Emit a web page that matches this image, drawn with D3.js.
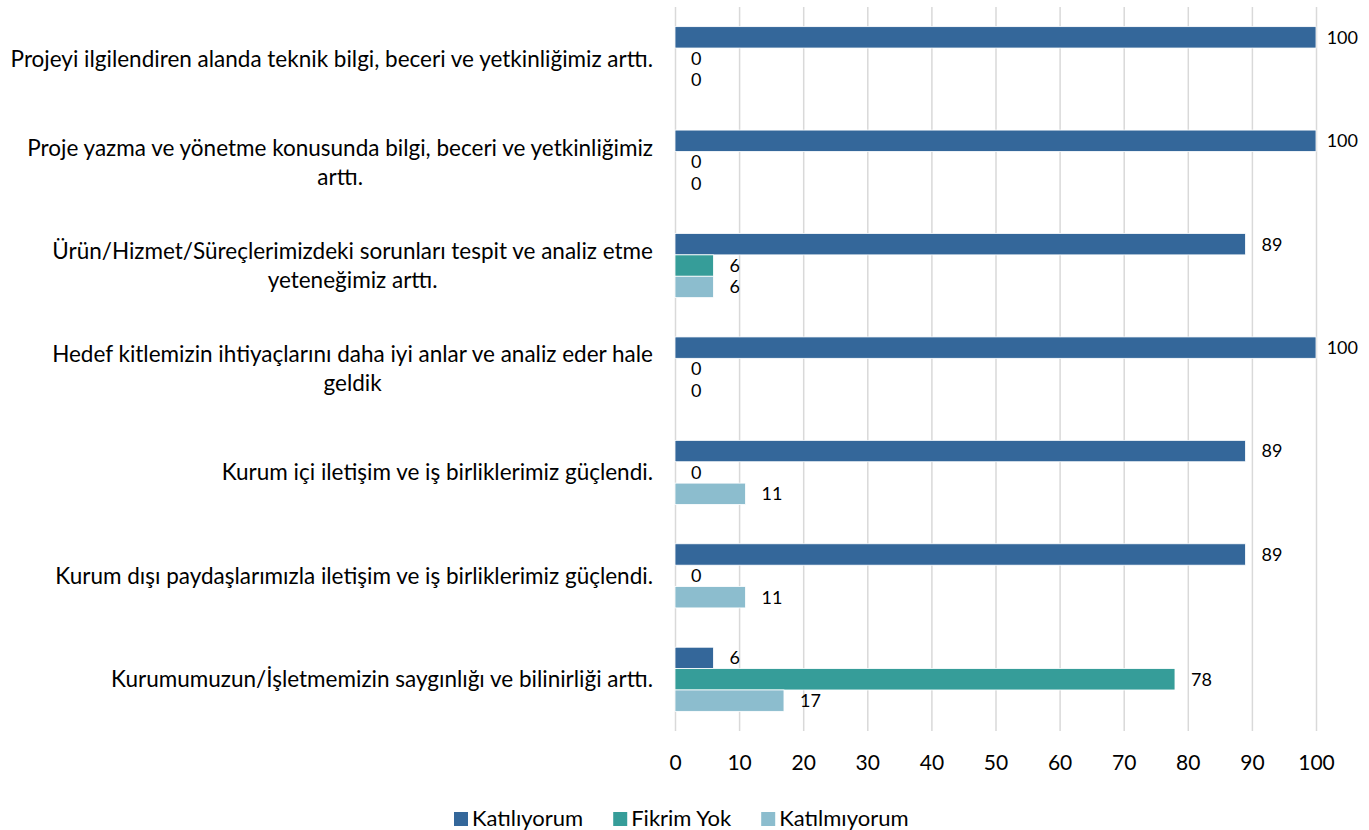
<!DOCTYPE html>
<html>
<head>
<meta charset="utf-8">
<script src="https://cdn.jsdelivr.net/npm/d3@7"></script>
<style>
  body { margin: 0; background: #fff; }
  svg text { font-family: Lato, "Open Sans", sans-serif; fill: #000; }
</style>
</head>
<body>
<svg id="chart" width="1369" height="830"></svg>
<script>
// categories, one array of lines per label (wrapped as in the picture)
var categories = [
  ["Projeyi ilgilendiren alanda teknik bilgi, beceri ve yetkinliğimiz arttı."],
  ["Proje yazma ve yönetme konusunda bilgi, beceri ve yetkinliğimiz", "arttı."],
  ["Ürün/Hizmet/Süreçlerimizdeki sorunları tespit ve analiz etme", "yeteneğimiz arttı."],
  ["Hedef kitlemizin ihtiyaçlarını daha iyi anlar ve analiz eder hale", "geldik"],
  ["Kurum içi iletişim ve iş birliklerimiz güçlendi."],
  ["Kurum dışı paydaşlarımızla iletişim ve iş birliklerimiz güçlendi."],
  ["Kurumumuzun/İşletmemizin saygınlığı ve bilinirliği arttı."]
];
var seriesNames = ["Katılıyorum", "Fikrim Yok", "Katılmıyorum"];
var katiliyorum  = [100, 100, 89, 100, 89, 89, 6];
var fikrimYok    = [0, 0, 6, 0, 0, 0, 78];
var katilmiyorum = [0, 0, 6, 0, 11, 11, 17];
var xTicks = [0, 10, 20, 30, 40, 50, 60, 70, 80, 90, 100];
var colors = ["#34679a", "#369d99", "#8cbdce"];

var seriesValues = [katiliyorum, fikrimYok, katilmiyorum];

var svg = d3.select("#chart");
var plotLeft = 675, plotRight = 1316, plotTop = 7, plotBottom = 731;

var x = d3.scaleLinear().domain([0, 100]).range([plotLeft, plotRight]);
var y = d3.scaleBand()
    .domain(d3.range(categories.length))
    .range([plotTop, plotBottom])
    .paddingInner(0.38)
    .paddingOuter(0.19);
var ySub = d3.scaleBand()
    .domain(d3.range(seriesNames.length))
    .range([0, y.bandwidth()]);

// gridlines
svg.append("g")
    .attr("transform", "translate(0," + plotBottom + ")")
    .call(d3.axisBottom(x).tickValues(xTicks).tickSize(-(plotBottom - plotTop)).tickFormat(""))
    .call(function(g){
        g.select(".domain").remove();
        g.selectAll("line").attr("stroke", "#d9d9d9").attr("stroke-width", 1.5);
    });

// tick labels
svg.append("g")
    .attr("transform", "translate(0," + plotBottom + ")")
    .call(d3.axisBottom(x).tickValues(xTicks).tickSize(0).tickPadding(0))
    .call(function(g){
        g.select(".domain").remove();
        g.selectAll("text")
          .attr("y", 39)
          .attr("dy", 0)
          .style("font-size", "21px")
          .style("font-family", "Lato, sans-serif")
          .attr("fill", "#000");
    });

// bars
var groups = svg.append("g").selectAll("g")
    .data(categories)
    .enter().append("g")
    .attr("transform", function(d, i){ return "translate(0," + y(i) + ")"; });

groups.each(function(c, ci){
    var g = d3.select(this);
    seriesValues.forEach(function(vals, si){
        var v = vals[ci];
        g.append("rect")
            .attr("x", x(0))
            .attr("y", ySub(si))
            .attr("width", x(v) - x(0))
            .attr("height", ySub.bandwidth())
            .attr("fill", colors[si])
            .attr("stroke", v > 0 ? "#fff" : "none")
            .attr("stroke-width", 0.8);
        var lbl = g.append("text")
            .attr("y", ySub(si) + ySub.bandwidth() / 2)
            .attr("dy", "0.35em")
            .style("font-size", "18px")
            .text(v);
        var lx = x(v) + 16;
        var w = lbl.node().getComputedTextLength();
        if (lx + w > 1358) lx = 1358 - w;
        lbl.attr("x", lx);
    });
});

// category labels, wrapped block right-aligned, lines centered in the block
var labelRight = 653, lineGap = 29;
svg.append("g").selectAll("text")
    .data(categories)
    .enter().append("text")
    .style("font-size", "22.5px")
    .attr("text-anchor", "middle")
    .each(function(lines, i){
        var t = d3.select(this);
        var cy = y(i) + y.bandwidth() / 2;
        var y0 = cy - (lines.length - 1) * lineGap / 2;
        lines.forEach(function(l, k){
            t.append("tspan").attr("y", y0 + k * lineGap).attr("dy", "0.35em").text(l);
        });
        var maxW = 0;
        t.selectAll("tspan").each(function(){
            maxW = Math.max(maxW, this.getComputedTextLength());
        });
        t.selectAll("tspan").attr("x", labelRight - maxW / 2);
    });

// legend
var legend = svg.append("g");
var legX = 454;
seriesNames.forEach(function(name, i){
    legend.append("rect")
        .attr("x", legX).attr("y", 812)
        .attr("width", 14).attr("height", 14)
        .attr("fill", colors[i]);
    var t = legend.append("text")
        .attr("x", legX + 18).attr("y", 826)
        .style("font-size", "22px")
        .text(name);
    legX += 18 + t.node().getComputedTextLength() + 30;
});
</script>
</body>
</html>
